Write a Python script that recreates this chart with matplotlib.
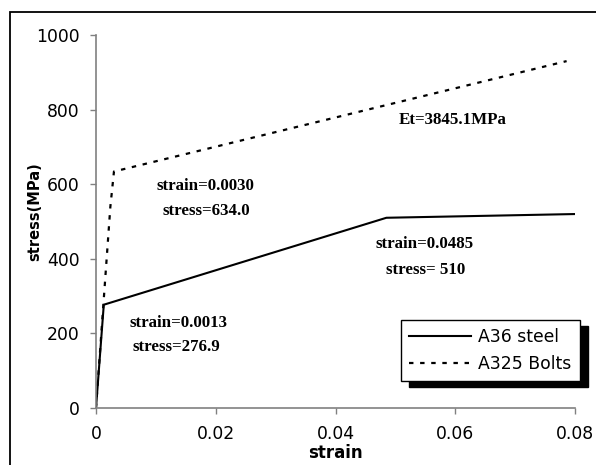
import matplotlib
matplotlib.use("Agg")
import matplotlib.pyplot as plt
from matplotlib.patches import Rectangle
from matplotlib.lines import Line2D

# Data
a36_strain = [0.0, 0.0013, 0.0485, 0.08]
a36_stress = [0.0, 276.9, 510.0, 520.0]
a325_strain = [0.0, 0.0024, 0.0030, 0.0786]
a325_stress = [0.0, 540.0, 634.0, 930.0]
series_labels = ["A36 steel", "A325 Bolts"]
x_ticks = [0, 0.02, 0.04, 0.06, 0.08]
x_tick_labels = ["0", "0.02", "0.04", "0.06", "0.08"]
y_ticks = [0, 200, 400, 600, 800, 1000]

W, H = 596, 465
fig = plt.figure(figsize=(W / 100, H / 100), dpi=100)
ax = fig.add_axes([96 / W, 1 - 408 / H, (575 - 96) / W, (408 - 35) / H])

ax.plot(a36_strain, a36_stress, color="black", lw=1.5, label=series_labels[0])
ax.plot(a325_strain, a325_stress, color="black", lw=1.6, linestyle=(0, (2, 3)),
        label=series_labels[1])

ax.set_xlim(0, 0.08)
ax.set_ylim(0, 1000)
ax.set_xticks(x_ticks)
ax.set_xticklabels(x_tick_labels)
ax.set_yticks(y_ticks)
for s in ["top", "right"]:
    ax.spines[s].set_visible(False)
for s in ["left", "bottom"]:
    ax.spines[s].set_color("#808080")
    ax.spines[s].set_linewidth(1.2)
ax.tick_params(direction="out", length=4, width=1, color="#808080",
               labelsize=12.4)
ax.tick_params(axis="x", pad=8)
ax.tick_params(axis="y", pad=8)
for lab in ax.get_xticklabels() + ax.get_yticklabels():
    lab.set_fontfamily("DejaVu Sans")

ax.set_xlabel("strain", fontsize=12, fontweight="bold", family="DejaVu Sans",
              va="center")
ax.xaxis.set_label_coords((335 - 96) / 479, (408 - 453) / 373)
ax.set_ylabel("stress(MPa)", fontsize=10.5, fontweight="bold", family="DejaVu Sans",
              va="center")
ax.yaxis.set_label_coords((35 - 96) / 479, (408 - 212) / 373)

ann = dict(fontsize=12.2, fontweight="bold", family="Liberation Serif",
           ha="center", va="center")
ax.text(0.0183, 595, "strain=0.0030", **ann)
ax.text(0.0185, 529, "stress=634.0", **ann)
ax.text(0.0137, 229, "strain=0.0013", **ann)
ax.text(0.0135, 164, "stress=276.9", **ann)
ax.text(0.0596, 772, "Et=3845.1MPa", **ann)
ax.text(0.0549, 439, "strain=0.0485", **ann)
ax.text(0.0550, 370, "stress= 510", **ann)

handles = [Line2D([], [], color="black", lw=1.5),
           Line2D([], [], color="black", lw=1.6, linestyle=(0, (2, 3)))]
leg = fig.legend(handles, series_labels, loc="upper left",
                 bbox_to_anchor=(401 / W, 1 - 320 / H), bbox_transform=fig.transFigure,
                 frameon=True, fancybox=False, edgecolor="black", framealpha=1,
                 prop={"family": "DejaVu Sans", "size": 12.4},
                 handlelength=3.6, handletextpad=0.45, borderpad=0.45,
                 labelspacing=0.55, borderaxespad=0)
leg.get_frame().set_linewidth(1.0)
leg.set_zorder(10)

fig.canvas.draw()
bb = leg.get_window_extent()
shadow = Rectangle((bb.x0 + 8, bb.y0 - 6), bb.width, bb.height,
                   transform=None, facecolor="black", edgecolor="black", zorder=9)
fig.add_artist(shadow)

# outer frame (extends beyond the right and bottom edges)
fig.add_artist(Rectangle((10 / W, -0.1), 1.2, 1 - 12 / H + 0.1,
                         transform=fig.transFigure, fill=False,
                         edgecolor="black", lw=1.3, zorder=0))

fig.savefig("out.png", dpi=100)
